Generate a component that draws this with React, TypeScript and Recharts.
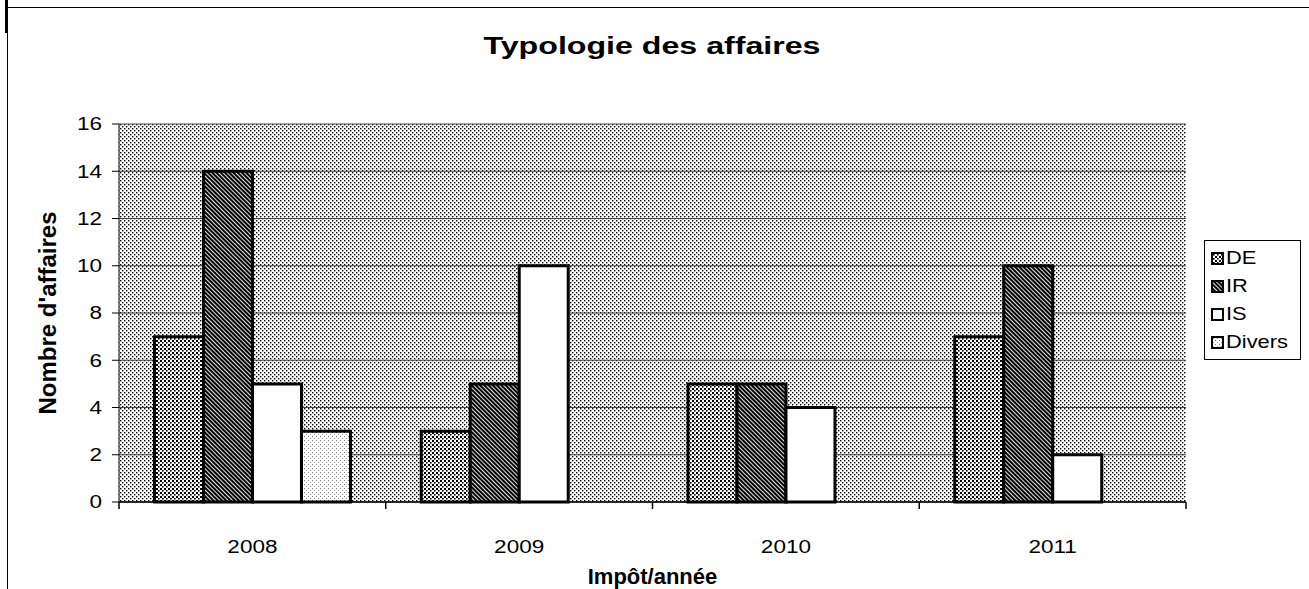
import React from 'react';
import { BarChart, Bar, XAxis, YAxis, CartesianGrid, Legend } from 'recharts';

const years = ['2008', '2009', '2010', '2011'];
const deValues = [7, 3, 5, 7];
const irValues = [14, 5, 5, 10];
const isValues = [5, 10, 4, 2];
const diversValues: (number | null)[] = [3, null, null, null];
const seriesNames = ['DE', 'IR', 'IS', 'Divers'];
const yTicks = [0, 2, 4, 6, 8, 10, 12, 14, 16];

const rows = years.map((year, i) => ({
  year,
  DE: deValues[i],
  IR: irValues[i],
  IS: isValues[i],
  Divers: diversValues[i],
}));

const FONT = '"Liberation Sans", Arial, sans-serif';
const STRETCH = 1.25;
const X_TICK_MARGIN = 38;

const YTitle = (props: any) => {
  const vb = props.viewBox;
  const cx = vb.x + 47;
  const cy = vb.y + vb.height / 2;
  return (
    <text x={cx} y={cy} transform={`rotate(-90 ${cx} ${cy})`} textAnchor="middle" dominantBaseline="central"
      fontFamily={FONT} fontWeight="bold" fontSize={24} fill="#000">
      Nombre d'affaires
    </text>
  );
};

const YTick = (props: any) => {
  const { x, y, payload } = props;
  return (
    <text transform={`translate(${x},${y}) scale(${STRETCH},1)`} textAnchor="end" dy="0.35em"
      fontFamily={FONT} fontSize={18} fill="#000">
      {payload.value}
    </text>
  );
};

// label in the middle of the category, tick marks on its edges (Excel style)
const XTick = (props: any) => {
  const { x, y, payload, width, index, visibleTicksCount } = props;
  const half = width / years.length / 2;
  const top = y - X_TICK_MARGIN;
  return (
    <g>
      <line x1={x - half} x2={x - half} y1={top} y2={top + 7} stroke="#000" strokeWidth={1.5} />
      {index === visibleTicksCount - 1 && (
        <line x1={x + half} x2={x + half} y1={top} y2={top + 7} stroke="#000" strokeWidth={1.5} />
      )}
      <text transform={`translate(${x},${y}) scale(${STRETCH},1)`} textAnchor="middle" dy="0.72em"
        fontFamily={FONT} fontSize={18} fill="#000">
        {payload.value}
      </text>
    </g>
  );
};

const LegendBox = (props: any) => {
  const items = [...(props.payload || [])].sort(
    (a: any, b: any) => seriesNames.indexOf(a.value) - seriesNames.indexOf(b.value)
  );
  return (
    <div style={{ border: '1px solid #000', background: '#fff', padding: '3px 20px 3px 6px', fontFamily: FONT, fontSize: 19 }}>
      {items.map((it: any) => (
        <div key={it.value} style={{ display: 'flex', alignItems: 'center', height: 28 }}>
          <svg width={13} height={13} style={{ marginRight: 2 }}>
            <rect x={1} y={1} width={11} height={11} fill={it.color} stroke="#000" strokeWidth={2} />
          </svg>
          <span style={{ display: 'inline-block', transform: 'scaleX(1.15)', transformOrigin: 'left center' }}>{it.value}</span>
        </div>
      ))}
    </div>
  );
};

export default function App() {
  return (
    <div style={{ position: 'absolute', left: 0, top: 0, width: 1309, height: 589, overflow: 'hidden', background: '#fff' }}>
      <div style={{ position: 'absolute', left: 7, top: 7, width: 1302, height: 1, background: '#000' }} />
      <div style={{ position: 'absolute', left: 7, top: 7, width: 1, height: 582, background: '#000' }} />
      <div style={{ position: 'absolute', left: 5, top: 0, width: 3, height: 33, background: '#000' }} />
      <BarChart
        width={1309}
        height={589}
        data={rows}
        margin={{ top: 124, right: 123, bottom: 0, left: 0 }}
        barCategoryGap="13.3%"
        barGap={0}
        style={{ fontFamily: FONT }}
      >
        <defs>
          <pattern id="pBg" width={4} height={4} patternUnits="userSpaceOnUse">
            <rect width={4} height={4} fill="#fff" />
            <rect x={0} y={0} width={1.4} height={1.4} fill="#000" />
            <rect x={2} y={2} width={1.4} height={1.4} fill="#000" />
          </pattern>
          <pattern id="pDE" width={4} height={4} patternUnits="userSpaceOnUse">
            <rect width={4} height={4} fill="#fff" />
            <rect x={0} y={0} width={2} height={2} fill="#000" />
            <rect x={2} y={2} width={1.6} height={1.6} fill="#000" />
          </pattern>
          <pattern id="pIR" width={3} height={3} patternUnits="userSpaceOnUse" patternTransform="rotate(-45)">
            <rect width={3} height={3} fill="#fff" />
            <rect x={0} y={0} width={2.1} height={3} fill="#000" />
          </pattern>
          <pattern id="pDiv" width={4} height={4} patternUnits="userSpaceOnUse">
            <rect width={4} height={4} fill="#fff" />
            <rect x={0} y={0} width={1} height={1} fill="#777" />
            <rect x={2} y={2} width={1} height={1} fill="#999" />
          </pattern>
        </defs>
        <text transform="translate(652,54) scale(1.34,1)" textAnchor="middle" fontFamily={FONT} fontWeight="bold" fontSize={24} fill="#000">
          Typologie des affaires
        </text>
        <CartesianGrid vertical={false} fill="url(#pBg)" stroke="#444" strokeOpacity={1} />
        <XAxis
          dataKey="year"
          axisLine={{ stroke: '#000', strokeWidth: 1.5 }}
          tickLine={false}
          tickSize={0}
          tickMargin={X_TICK_MARGIN}
          height={87}
          interval={0}
          tick={<XTick />}
          label={{ value: 'Impôt/année', position: 'insideBottom', offset: 5, fill: '#000', fontSize: 22, fontWeight: 'bold', fontFamily: FONT }}
        />
        <YAxis
          width={119}
          domain={[0, 16]}
          ticks={yTicks}
          interval={0}
          tickSize={7}
          tickMargin={10}
          tick={<YTick />}
          axisLine={{ stroke: '#000' }}
          tickLine={{ stroke: '#000' }}
          label={<YTitle />}
        />
        <Legend
          layout="horizontal"
          verticalAlign="middle"
          align="center"
          wrapperStyle={{ left: 1204, top: 240, width: 'auto' }}
          content={<LegendBox />}
        />
        <Bar dataKey="DE" name="DE" fill="url(#pDE)" stroke="#000" strokeWidth={3} isAnimationActive={false} />
        <Bar dataKey="IR" name="IR" fill="url(#pIR)" stroke="#000" strokeWidth={3} isAnimationActive={false} />
        <Bar dataKey="IS" name="IS" fill="#fff" stroke="#000" strokeWidth={3} isAnimationActive={false} />
        <Bar dataKey="Divers" name="Divers" fill="url(#pDiv)" stroke="#000" strokeWidth={3} isAnimationActive={false} />
      </BarChart>
    </div>
  );
}
